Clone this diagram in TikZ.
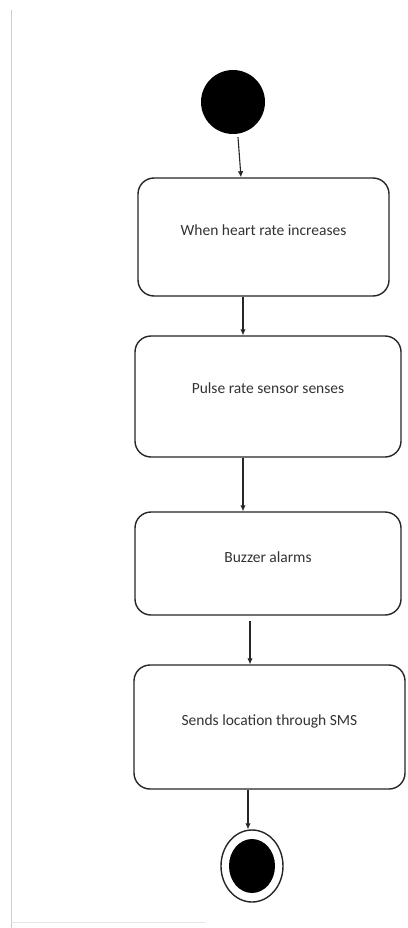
\documentclass[tikz,border=0pt]{standalone}
\usepackage{fontspec}
\setmainfont{Carlito}
\usetikzlibrary{arrows.meta,shapes.geometric}
\begin{document}
\begin{tikzpicture}[x=1pt,y=-1pt,
  actbox/.style={draw=black!85, line width=1.4pt, rounded corners=16pt, inner sep=0pt},
  acttext/.style={font=\fontsize{15.5}{18}\selectfont, text=black!80, inner sep=0pt},
  flow/.style={draw=black!85, line width=1.1pt, -{Latex[length=6pt,width=5.5pt]}},
  frameline/.style={draw=black!20, line width=0.8pt}]
\useasboundingbox[fill=white] (0,0) rectangle (407,928);
% faint page frame
\coordinate (f1) at (11,10);
\coordinate (f2) at (11,928);
\coordinate (f3) at (11,922);
\coordinate (f4) at (205,922);
\draw[frameline] (f1) -- (f2);
\draw[draw=black!10, line width=0.8pt] (f3) -- (f4);
% start node
\node[circle, fill=black, minimum size=64pt, inner sep=0pt] (s) at (233,102) {};
% activity boxes
\node[actbox, minimum width=251pt, minimum height=118pt] (b1) at (263.5,237) {};
\node[acttext] (t1) at ([yshift=7pt]b1.center) {When heart rate increases};
\node[actbox, minimum width=266pt, minimum height=121pt] (b2) at (268,396.5) {};
\node[acttext] (t2) at ([yshift=8pt]b2.center) {Pulse rate sensor senses};
\node[actbox, minimum width=266pt, minimum height=103pt] (b3) at (268,563.5) {};
\node[acttext] (t3) at ([yshift=6pt]b3.center) {Buzzer alarms};
\node[actbox, minimum width=271pt, minimum height=124pt] (b4) at (269.5,727) {};
\node[acttext] (t4) at ([yshift=6pt]b4.center) {Sends location through SMS};
% end node
\node[ellipse, draw=black!85, line width=1.4pt, minimum width=62pt, minimum height=72pt, inner sep=0pt] (e) at (252,866) {};
\node[ellipse, fill=black, minimum width=46pt, minimum height=54pt, inner sep=0pt] (ei) at (e.center) {};
% connectors
\draw[flow] ([xshift=5pt,yshift=-3pt]s.south) -- ([xshift=-22.5pt]b1.north);
\draw[flow] ([xshift=-20.5pt]b1.south) -- ([xshift=-25pt]b2.north);
\draw[flow] ([xshift=-25pt]b2.south) -- ([xshift=-25pt]b3.north);
\draw[flow] ([xshift=-18pt,yshift=-5pt]b3.south) -- ([xshift=-19.5pt]b4.north);
\draw[flow] ([xshift=-21.5pt]b4.south) -- ([xshift=-4pt]e.north);
\end{tikzpicture}
\end{document}
